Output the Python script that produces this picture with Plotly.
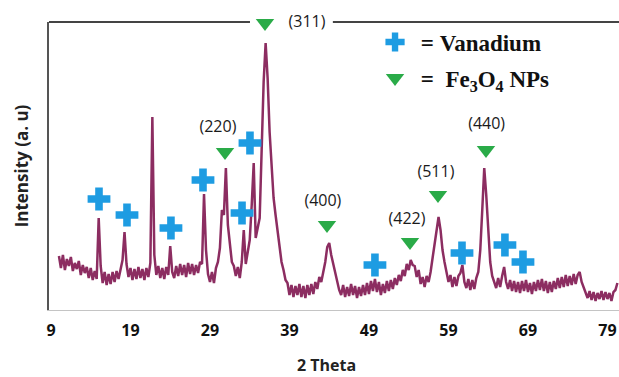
import plotly.graph_objects as go

# XRD scan: 2-theta start / step (degrees) and intensities (a.u.)
two_theta_start = 10.0
two_theta_step = 0.25
intensity = [
    54, 42, 55, 40, 51, 44, 53, 39, 47, 41, 49, 35, 45, 37, 43, 32, 42, 30, 39, 31,   # 10.00-14.75
    92, 44, 27, 38, 25, 36, 26, 38, 28, 39, 31, 40, 50, 78, 46, 33, 42, 30, 41, 31,   # 15.00-19.75
    43, 32, 41, 30, 42, 33, 47, 193, 55, 35, 44, 32, 42, 31, 43, 35, 64, 38, 32, 44,  # 20.00-24.75
    34, 46, 35, 45, 33, 47, 36, 46, 35, 45, 37, 48, 46, 116, 60, 36, 28, 38, 27, 42,  # 25.00-29.75
    48, 62, 100, 95, 142, 85, 65, 48, 44, 34, 43, 32, 48, 80, 46, 60, 70, 105, 147, 72,  # 30.00-34.75
    84, 92, 160, 228, 267, 232, 178, 140, 112, 95, 78, 60, 48, 40, 30, 27, 15, 25, 13, 24,  # 35.00-39.75
    15, 26, 13, 24, 12, 25, 15, 26, 16, 28, 21, 33, 28, 38, 48, 63, 67, 55, 46, 36,   # 40.00-44.75
    28, 20, 15, 25, 13, 23, 14, 26, 15, 24, 12, 23, 14, 25, 15, 27, 16, 29, 19, 31,   # 45.00-49.75
    18, 28, 15, 26, 17, 29, 19, 30, 21, 32, 25, 35, 29, 40, 34, 46, 40, 50, 45, 44,   # 50.00-54.75
    33, 40, 26, 33, 23, 34, 28, 38, 52, 65, 82, 93, 80, 60, 48, 37, 28, 35, 23, 33,   # 55.00-59.75
    24, 34, 37, 45, 28, 22, 31, 20, 30, 21, 32, 38, 60, 100, 142, 115, 75, 48, 34, 28,  # 60.00-64.75
    22, 32, 23, 34, 43, 28, 21, 30, 19, 29, 18, 28, 17, 29, 19, 30, 18, 27, 16, 28,   # 65.00-69.75
    19, 30, 20, 31, 19, 29, 17, 28, 18, 29, 21, 32, 22, 33, 23, 35, 24, 34, 25, 36,   # 70.00-74.75
    26, 35, 38, 28, 22, 18, 12, 19, 10, 18, 9, 17, 11, 19, 10, 18, 11, 17, 9, 18,     # 75.00-79.75
    20, 27,                                                                           # 80.00-80.25
]
two_theta = [round(two_theta_start + i * two_theta_step, 2) for i in range(len(intensity))]

# Vanadium marker positions (2theta, intensity)
vanadium_x = [15.04, 18.56, 24.09, 28.12, 33.03, 34.03, 49.75, 60.70, 66.10, 68.37]
vanadium_y = [111, 95, 82, 130, 97, 167, 45, 57, 65, 48]

# Fe3O4 marker positions
fe3o4_x = [30.89, 35.92, 43.72, 54.16, 57.68, 63.72]
fe3o4_y = [158, 287, 85, 68, 115, 160]

# hkl labels
hkl_text = ["(220)", "(311)", "(400)", "(422)", "(511)", "(440)"]
hkl_x = [30.0, 41.2, 43.2, 53.78, 57.42, 63.8]
hkl_y = [182, 287, 108, 90, 137, 185]

tick_vals = [9, 19, 29, 39, 49, 59, 69, 79]
tick_text = ["9", "19", "29", "39", "49", "59", "69", "79"]

fig = go.Figure()
fig.add_trace(go.Scatter(
    x=two_theta, y=intensity, mode="lines",
    line=dict(color="#8c2d61", width=2.5), showlegend=False, hoverinfo="skip"))

fig.add_trace(go.Scatter(
    x=vanadium_x, y=vanadium_y, mode="markers", cliponaxis=False,
    marker=dict(symbol="cross", size=19, color="#1e9ce2"),
    name="<b>\u00a0=\u00a0Vanadium</b>", legendgroup="v"))

fig.add_trace(go.Scatter(
    x=fe3o4_x, y=fe3o4_y, mode="markers", cliponaxis=False,
    marker=dict(symbol="triangle-down", size=16, color="#2aab48"),
    name="<b>\u00a0=\u00a0\u00a0Fe<sub>3</sub>O<sub>4</sub> NPs</b>", legendgroup="f"))

fig.add_trace(go.Scatter(
    x=hkl_x, y=hkl_y, mode="text", text=hkl_text, cliponaxis=False,
    textfont=dict(family="Open Sans", size=16, color="#1a1a1a"),
    showlegend=False, hoverinfo="skip"))

fig.update_layout(
    width=619, height=377,
    margin=dict(l=49, r=0, t=22, b=67),
    paper_bgcolor="white", plot_bgcolor="white",
    font=dict(family="Open Sans", color="#111111"),
    legend=dict(
        x=0.572, y=1.005, xanchor="left", yanchor="top",
        bgcolor="rgba(0,0,0,0)", tracegroupgap=3,
        font=dict(family="Liberation Serif", size=23, color="#111111"),
    ),
    xaxis=dict(
        range=[8.75, 80.45], showgrid=False, zeroline=False,
        showline=True, linecolor="#c4c4c4", linewidth=1,
        tickmode="array", tickvals=tick_vals, ticktext=tick_text,
        ticks="", ticklabelstandoff=6,
        tickfont=dict(family="Open Sans", size=16, color="#111111", weight="bold"),
    ),
    yaxis=dict(
        range=[0, 288], showgrid=False, zeroline=False,
        showline=True, linecolor="#555555", linewidth=2,
        showticklabels=False, ticks="",
        title=dict(text="Intensity (a. u)", standoff=14,
                   font=dict(family="Open Sans", size=17, color="#222222", weight="bold")),
    ),
    annotations=[
        dict(text="2 Theta", xref="paper", yref="paper", x=0.486, y=-0.191,
             xanchor="center", yanchor="middle", showarrow=False,
             font=dict(family="Open Sans", size=16, color="#222222", weight="bold")),
    ],
    shapes=[
        dict(type="line", xref="paper", yref="paper", x0=0, x1=0.3526, y0=1, y1=1,
             line=dict(color="#444444", width=2)),
        dict(type="line", xref="paper", yref="paper", x0=0.498, x1=1, y0=1, y1=1,
             line=dict(color="#444444", width=2)),
    ],
)

fig.write_html("out.html")
